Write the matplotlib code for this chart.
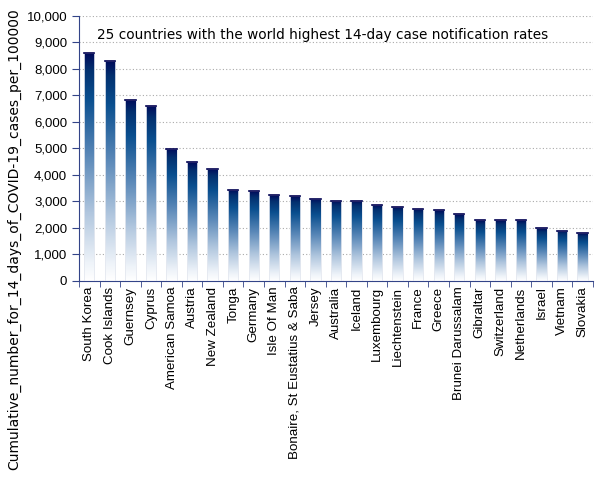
import numpy as np
import matplotlib
matplotlib.use("Agg")
import matplotlib.pyplot as plt
from matplotlib.colors import LinearSegmentedColormap
from matplotlib.ticker import FuncFormatter, MultipleLocator

countries = ["South Korea", "Cook Islands", "Guernsey", "Cyprus", "American Samoa",
             "Austria", "New Zealand", "Tonga", "Germany", "Isle Of Man",
             "Bonaire, St Eustatius & Saba", "Jersey", "Australia", "Iceland",
             "Luxembourg", "Liechtenstein", "France", "Greece", "Brunei Darussalam",
             "Gibraltar", "Switzerland", "Netherlands", "Israel", "Vietnam", "Slovakia"]
rates = [8600, 8310, 6840, 6615, 4990, 4490, 4230, 3435, 3395, 3245,
         3205, 3105, 3030, 3030, 2880, 2805, 2730, 2665, 2525,
         2300, 2300, 2300, 1995, 1895, 1795]

title = "25 countries with the world highest 14-day case notification rates"
ylabel = "Cumulative_number_for_14_days_of_COVID-19_cases_per_100000"

fig = plt.figure(figsize=(6.05, 4.8), dpi=100)
ax = fig.add_axes([0.1306, 0.4146, 0.8494, 0.5521])

cmap = LinearSegmentedColormap.from_list(
    "bar", [(0.0, "#ffffff"), (0.08, "#eef3f9"), (0.3, "#b0c6de"), (0.55, "#5a88b8"),
            (0.8, "#0a4f8f"), (0.93, "#03306f"), (1.0, "#000a5a")])
grad = np.linspace(0, 1, 256).reshape(-1, 1)

x = np.arange(len(countries))
bars = ax.bar(x, rates, width=0.5, color="none", edgecolor="#e4e8f0", linewidth=0.6, zorder=3)
for b in bars:
    x0, w, h = b.get_x(), b.get_width(), b.get_height()
    im = ax.imshow(grad, cmap=cmap, aspect="auto", origin="lower",
                   extent=(x0, x0 + w, 0, h), zorder=2)
    im.set_clip_path(b)
    ax.plot([x0, x0 + w], [h, h], color="#000050", lw=1.2, zorder=4)

ax.set_xlim(-0.5, len(countries) - 0.5)
ax.set_ylim(0, 10000)
ax.yaxis.set_major_locator(MultipleLocator(1000))
ax.yaxis.set_major_formatter(FuncFormatter(lambda v, p: f"{int(v):,}"))
ax.grid(axis="y", color="#aaaaaa", linestyle=(0, (1, 2)), linewidth=0.8, zorder=0)
ax.set_axisbelow(True)

ax.set_xticks(x)
ax.set_xticklabels(countries, rotation=90, fontsize=9.6, family="Liberation Sans")
ax.set_xticks(np.arange(-0.5, len(countries)), minor=True)
ax.tick_params(axis="x", which="major", length=0, pad=4)
ax.tick_params(axis="x", which="minor", length=4, color="#334488", direction="out")
ax.tick_params(axis="y", length=5, color="#334488", labelsize=9.5)
for lab in ax.get_yticklabels():
    lab.set_family("Liberation Sans")

for s in ["top", "right"]:
    ax.spines[s].set_visible(False)
for s in ["left", "bottom"]:
    ax.spines[s].set_color("#334488")

ax.text(0.035, 0.93, title, transform=ax.transAxes, fontsize=9.8, va="center", ha="left")
fig.text(0.023, 0.502, ylabel, rotation=90, fontsize=10, va="center", ha="center")

fig.savefig("out.png", dpi=100)
